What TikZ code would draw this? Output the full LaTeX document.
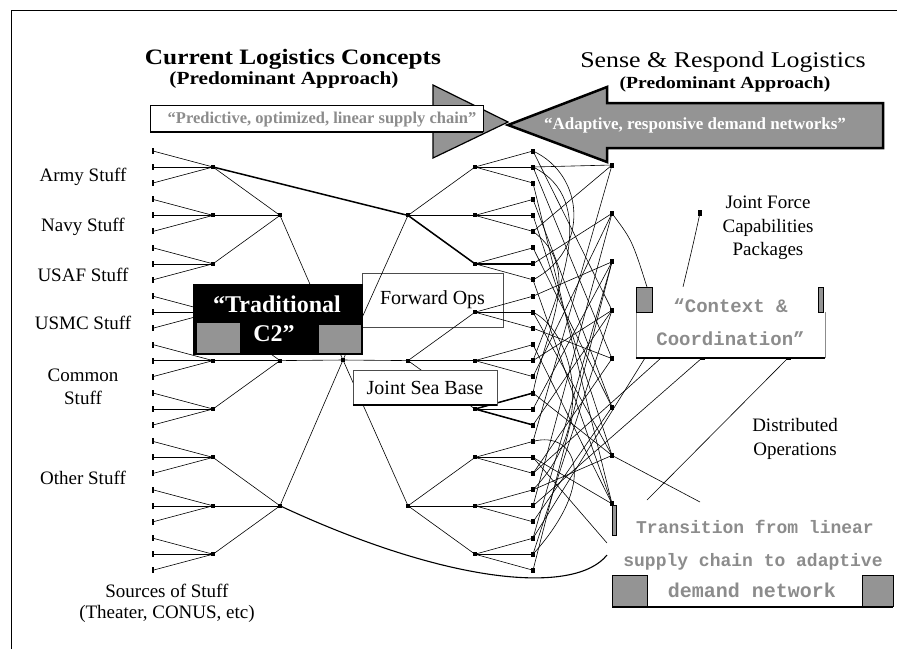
\documentclass[tikz,border=0pt]{standalone}
\usepackage{fontspec}
\setmainfont{Liberation Serif}
\newfontfamily\titlefont[FakeStretch=1.15]{Liberation Serif}
\newfontfamily\boxfont{Liberation Mono}
\definecolor{dither}{gray}{0.58}
\definecolor{pale}{gray}{0.55}

\tikzset{
  wire/.style={line width=0.6pt},
  boldwire/.style={line width=1.5pt},
  stufftext/.style={font=\fontsize{19}{23}\selectfont, align=center},
  boxtext/.style={font=\boxfont\bfseries\fontsize{19}{33}\selectfont, text=pale, align=center},
  greybox/.style={fill=dither, draw=black, line width=0.4pt},
}

\begin{document}
\begin{tikzpicture}[x=1pt,y=-1pt]
\useasboundingbox (0,0) rectangle (897,649);
\draw[line width=0.8pt] (11,649) -- (11,10) -- (897,10);

% titles
\node[font=\titlefont\bfseries\fontsize{22}{26}\selectfont] (curr) at (293,59) {Current Logistics Concepts};
\node[font=\titlefont\bfseries\fontsize{18.5}{22}\selectfont] (currsub) at (284,80) {(Predominant Approach)};
\node[font=\titlefont\fontsize{22.5}{26}\selectfont] (sense) at (723,62) {Sense \& Respond Logistics};
\node[font=\titlefont\bfseries\fontsize{17}{20}\selectfont] (sensesub) at (725,84) {(Predominant Approach)};

% the two big arrows
\filldraw[fill=dither, line width=1.2pt] (433,85) -- (508,122) -- (433,158) -- cycle;
\filldraw[fill=white, line width=0.8pt] (150,105) rectangle (483,131);
\draw[line width=2.5pt] (150,132) -- (483,132);
\node[font=\bfseries\fontsize{16.5}{18}\selectfont, text=pale] (push) at (322,120) {“Predictive, optimized, linear supply chain”};
\filldraw[fill=dither, line width=2.5pt, line join=miter] (508,125) -- (607,87) -- (607,103) -- (883,103) -- (883,148) -- (607,148) -- (607,162) -- cycle;
\node[font=\bfseries\fontsize{17}{20}\selectfont, text=white] (pull) at (695,125) {“Adaptive, responsive demand networks”};

% left labels
\node[stufftext] (army) at (83,177) {Army Stuff};
\node[stufftext] (navy) at (83,227) {Navy Stuff};
\node[stufftext] (usaf) at (83,275) {USAF Stuff};
\node[stufftext] (usmc) at (83,323) {USMC Stuff};
\node[stufftext] (common) at (83,387) {Common\\Stuff};
\node[stufftext] (other) at (83,478) {Other Stuff};
\node[stufftext, font=\fontsize{19}{21}\selectfont] (sources) at (167,603) {Sources of Stuff\\(Theater, CONUS, etc)};

% right labels
\node[stufftext, font=\fontsize{19}{23.5}\selectfont] (jfcp) at (768,228) {Joint Force\\Capabilities\\Packages};
\node[stufftext, font=\fontsize{19}{24}\selectfont] (distops) at (795,439) {Distributed\\Operations};

% tree points
\foreach \g in {0,...,8}{
  \pgfmathsetmacro\cy{167+48.4*\g}
  \coordinate (a\g) at (213,\cy);
  \coordinate (d\g) at (475,\cy);
  \foreach \k in {0,1,2}{
    \pgfmathsetmacro\ly{\cy+16*(\k-1)}
    \coordinate (s\g\k) at (153,\ly);
    \coordinate (t\g\k) at (533,\ly);
  }
}
\foreach \m in {0,1,2}{
  \pgfmathsetmacro\my{167+48.4*(3*\m+1)}
  \coordinate (b\m) at (280,\my);
  \coordinate (e\m) at (408,\my);
}
\coordinate (c) at (343,360);
\foreach \j in {0,...,7}{
  \pgfmathsetmacro\ry{165+48.4*\j}
  \coordinate (r\j) at (612,\ry);
}
\coordinate (jf) at (700,213);
\coordinate (cb1) at (702,358);
\coordinate (cb2) at (788,358);
\coordinate (ca) at (647,287);
\coordinate (cbt) at (683,287);
\coordinate (cx1) at (645,358);
\coordinate (cx2) at (661,358);
\coordinate (ce) at (647,500);
\coordinate (rd) at (700,502);
\coordinate (rz) at (607,555);
\coordinate (rw) at (607,543);

% Forward Ops sits under the wires
\node[draw=black!70, fill=white, line width=0.6pt, minimum width=141pt, minimum height=54pt, font=\fontsize{20}{24}\selectfont] (fwd) at (432.5,300) {Forward Ops};

% the symmetric tree
\foreach \g in {0,...,8}{
  \foreach \k in {0,1,2}{
    \draw[wire] (s\g\k) -- (a\g);
    \draw[wire] (d\g) -- (t\g\k);
  }
}
\foreach \m in {0,1,2}{
  \foreach \k in {0,1,2}{
    \pgfmathtruncatemacro\g{3*\m+\k}
    \draw[wire] (a\g) -- (b\m);
    \draw[wire] (e\m) -- (d\g);
  }
  \draw[wire] (b\m) -- (c) -- (e\m);
}
\draw[boldwire] (a0) -- (e0);
\draw[boldwire] (e0) -- (d2) -- (t21);
\draw[boldwire] (d5) -- (t50);
\draw[boldwire] (d5) -- (t52);
\draw[line width=1.1pt] (b2) .. controls (450,585) and (575,595) .. (rz);

% demand network tangle
\foreach \p/\q in {00/3,01/4,02/7,10/5,11/6,20/5,22/7,31/6,32/4,40/7,42/1,51/2,52/3,60/0,62/4,71/1,72/5,80/2,81/3,82/2,70/6,41/3,12/0,21/1,30/2,50/6,61/7,01/0}
  \draw[wire] (t\p) -- (r\q);
\draw[wire] (t00) .. controls (585,175) and (590,250) .. (t22);
\draw[wire] (t01) .. controls (600,200) and (560,290) .. (t41);
\draw[wire] (t12) .. controls (585,270) and (545,330) .. (t50);
\draw[wire] (t60) .. controls (575,430) and (600,480) .. (t81);
\draw[wire] (t31) .. controls (570,330) and (600,420) .. (t70);
\draw[wire] (t61) -- (rw);
\draw[wire] (r6) -- (rd);
\draw[wire] (r1) .. controls (632,240) .. (ca);
\draw[wire] (jf) .. controls (693,245) .. (cbt);
\draw[wire] (cb1) -- (t71);
\draw[wire] (cb2) -- (ce);
\draw[wire] (t80) -- (cx1);
\draw[wire] (t62) -- (cx2);

% points
\foreach \g in {0,...,8}{
  \fill (a\g) ++(-2,-2) rectangle ++(4,4);
  \fill (d\g) ++(-2,-2) rectangle ++(4,4);
  \foreach \k in {0,1,2}{
    \fill (s\g\k) ++(-1.2,-3) rectangle ++(2.4,6);
    \fill (t\g\k) ++(-2,-2.5) rectangle ++(4,5);
  }
}
\foreach \m in {0,1,2}{
  \fill (b\m) ++(-2,-2) rectangle ++(4,4);
  \fill (e\m) ++(-2,-2) rectangle ++(4,4);
}
\fill (c) ++(-2,-2) rectangle ++(4,4);
\foreach \j in {0,...,7}
  \fill (r\j) ++(-2,-2.5) rectangle ++(4,5);
\fill (jf) ++(-2,-3) rectangle ++(4,6);
\fill (cb1) ++(-2.5,-2) rectangle ++(5,4);
\fill (cb2) ++(-2.5,-2) rectangle ++(5,4);

% Traditional C2
\node[fill=black, minimum width=170pt, minimum height=71pt, inner sep=0pt] (c2) at (278,319.5) {};
\fill[dither] (197,323) rectangle (240,353);
\fill[dither] (319,325) rectangle (361,353);
\node[font=\bfseries\fontsize{24}{28}\selectfont, text=white] (trad) at (277,304) {“Traditional};
\node[font=\bfseries\fontsize{24}{28}\selectfont, text=white] (ctwo) at (274,334) {C2”};

% Joint Sea Base
\node[draw=black!70, fill=white, minimum width=144pt, minimum height=35pt, font=\fontsize{20}{24}\selectfont] (jsb) at (425,387.5) {Joint Sea Base};
\draw[line width=2pt] (jsb.south west) -- (jsb.south east);

% Context & Coordination
\node[fill=white, minimum width=189pt, minimum height=71pt, inner sep=0pt, boxtext] (ctx) at (730.5,322.5) {“Context \&\\Coordination”};
\draw[pale, line width=0.5pt] (ctx.north west) -- (ctx.south west);
\draw[pale, line width=0.5pt] (ctx.south east) -- ++(0,-46);
\draw[line width=2pt] (ctx.south west) -- (ctx.south east);
\filldraw[greybox] (636,287) rectangle (652,312);
\filldraw[greybox] (818,287) rectangle (823,312);

% Transition box
\node[fill=white, minimum width=281pt, minimum height=95pt, inner sep=0pt] (trans) at (752.5,560.5) {};
\filldraw[greybox] (612,505) rectangle (616,535);
\filldraw[greybox] (612,575) rectangle (647,606);
\filldraw[greybox] (862,575) rectangle (893,606);
\draw[line width=2pt] (612,607) -- (893,607);
\node[font=\boxfont\bfseries\fontsize{18}{20}\selectfont, text=pale] (trans1) at (755,527) {Transition from linear};
\node[font=\boxfont\bfseries\fontsize{18}{20}\selectfont, text=pale] (trans2) at (753,562) {supply chain to adaptive};
\node[font=\boxfont\bfseries\fontsize{20}{22}\selectfont, text=pale] (trans3) at (752,590) {demand network};
\end{tikzpicture}
\end{document}
